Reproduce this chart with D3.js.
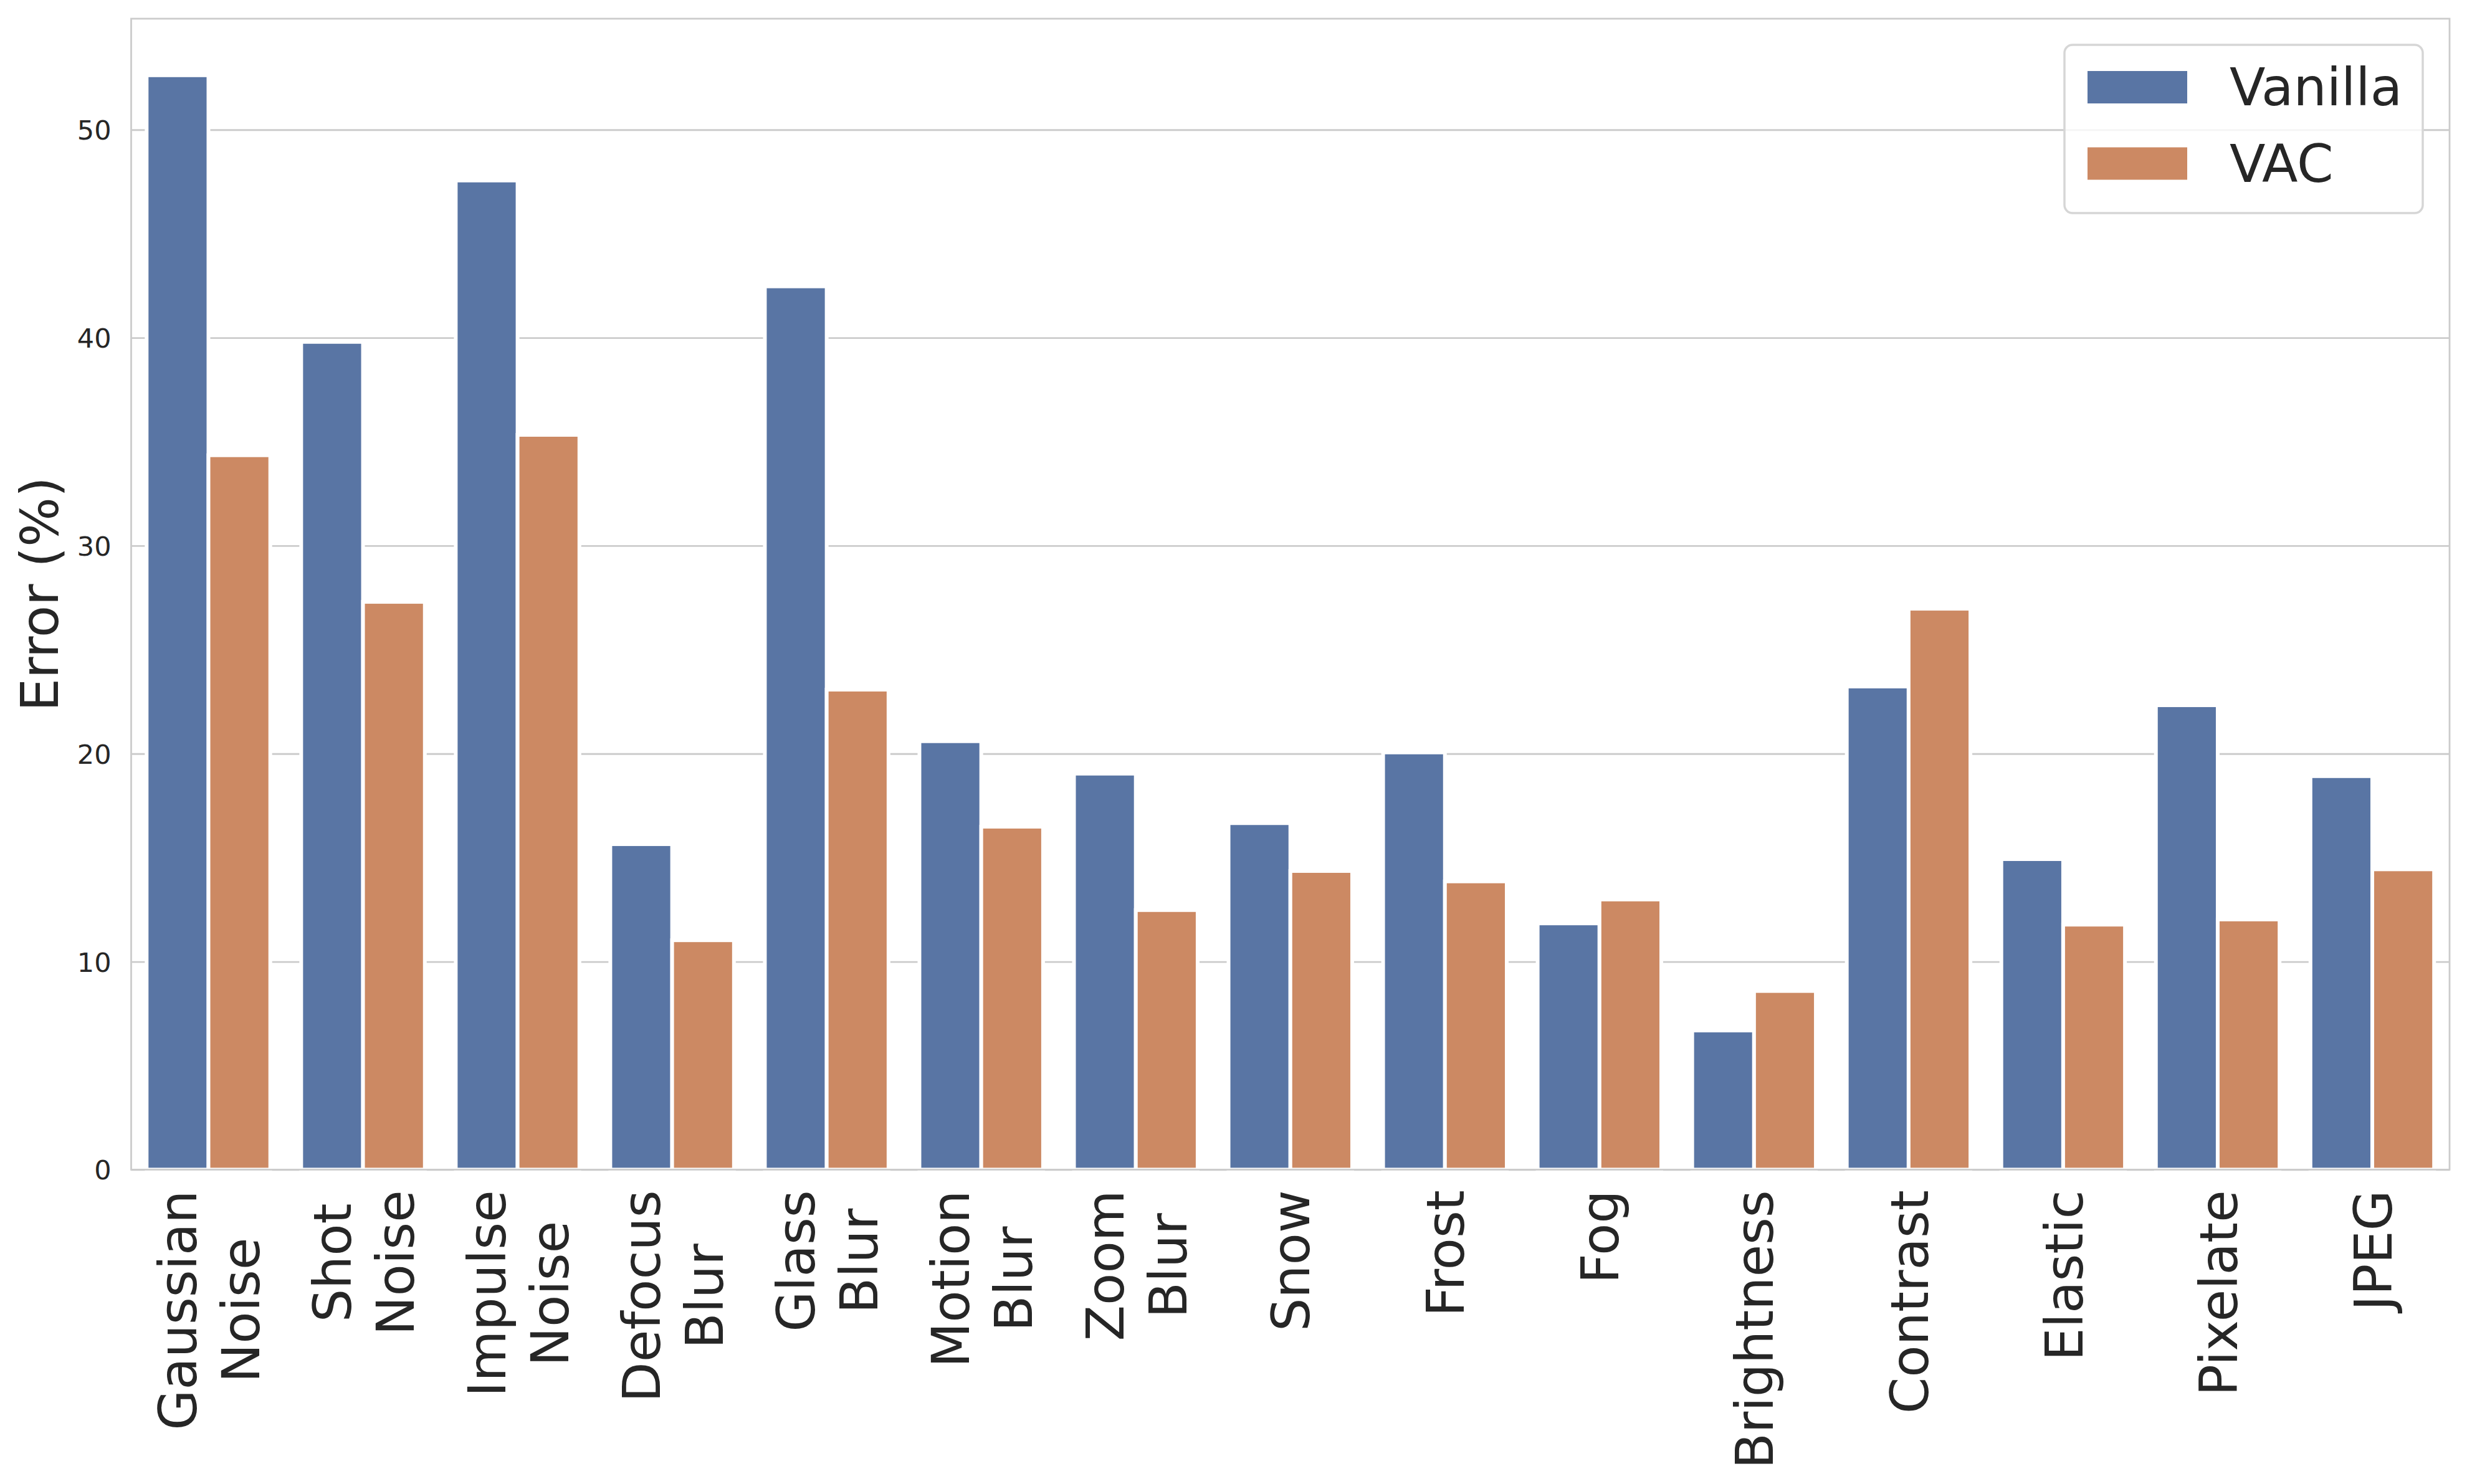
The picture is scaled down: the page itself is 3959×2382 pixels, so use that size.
<!DOCTYPE html>
<html>
<head>
<meta charset="utf-8">
<script src="https://cdn.jsdelivr.net/npm/d3@7"></script>
<style>
  html, body { margin: 0; padding: 0; background: #ffffff; }
  svg { display: block; }
  text { font-family: "DejaVu Sans", sans-serif; fill: #262626; }
</style>
</head>
<body>
<svg id="chart" width="3959" height="2382"></svg>
<script>
// ---- data ----
const categories = ["Gaussian\nNoise", "Shot\nNoise", "Impulse\nNoise", "Defocus\nBlur", "Glass\nBlur",
  "Motion\nBlur", "Zoom\nBlur", "Snow", "Frost", "Fog", "Brightness", "Contrast", "Elastic", "Pixelate", "JPEG"];
const seriesNames = ["Vanilla", "VAC"];
const vanillaValues = [52.62, 39.80, 47.56, 15.65, 42.47, 20.60, 19.04, 16.66, 20.06, 11.84, 6.69, 23.23, 14.93, 22.33, 18.92];
const vacValues = [34.35, 27.30, 35.33, 11.03, 23.08, 16.49, 12.48, 14.36, 13.86, 12.99, 8.59, 26.97, 11.78, 12.03, 14.44];
const yTicks = [0, 10, 20, 30, 40, 50];
const yLabel = "Error (%)";
const seriesColors = ["#5975a4", "#cc8963"];

// ---- layout ----
const W = 3959, H = 2382;
const plotLeft = 210.5, plotRight = 3931, plotTop = 30, plotBottom = 1877.4;
const yMax = 55.34;

const svg = d3.select("#chart");
svg.append("rect").attr("width", W).attr("height", H).attr("fill", "#ffffff");

const x = d3.scaleBand().domain(categories).range([plotLeft, plotRight]).paddingInner(0.2).paddingOuter(0.1);
const xs = d3.scaleBand().domain(seriesNames).range([0, x.bandwidth()]).padding(0);
const y = d3.scaleLinear().domain([0, yMax]).range([plotBottom, plotTop]);

// grid
const grid = svg.append("g").attr("transform", `translate(${plotLeft},0)`)
  .call(d3.axisLeft(y).tickValues(yTicks).tickSize(-(plotRight - plotLeft)).tickFormat(""));
grid.select(".domain").remove();
grid.selectAll("line").attr("stroke", "#cccccc").attr("stroke-width", 2.8);

// bars
const rows = categories.map((c, i) => ({ cat: c, values: [vanillaValues[i], vacValues[i]] }));
const groups = svg.append("g").selectAll("g").data(rows).join("g")
  .attr("transform", d => `translate(${x(d.cat)},0)`);
groups.selectAll("rect").data(d => d.values.map((v, j) => ({ name: seriesNames[j], v, j })))
  .join("rect")
  .attr("x", d => xs(d.name))
  .attr("width", xs.bandwidth())
  .attr("y", d => y(d.v))
  .attr("height", d => y(0) - y(d.v))
  .attr("fill", d => seriesColors[d.j])
  .attr("stroke", "#ffffff")
  .attr("stroke-width", 6);

// spines
svg.append("rect").attr("x", plotLeft).attr("y", plotTop).attr("width", plotRight - plotLeft).attr("height", plotBottom - plotTop)
  .attr("fill", "none").attr("stroke", "#cccccc").attr("stroke-width", 2.8);

// y axis labels
const yAxis = svg.append("g").attr("transform", `translate(${plotLeft},0)`)
  .call(d3.axisLeft(y).tickValues(yTicks).tickSize(0).tickPadding(32).tickFormat(d3.format("d")));
yAxis.select(".domain").remove();
yAxis.selectAll("text").attr("font-size", 43).attr("dy", "0.36em")
  .attr("font-family", "DejaVu Sans").attr("fill", "#262626");

// x axis labels
const xAxis = svg.append("g").attr("transform", `translate(0,${plotBottom})`)
  .call(d3.axisBottom(x).tickSize(0).tickFormat(""));
xAxis.select(".domain").remove();
const fs = 84, lineStep = fs * 1.2, capHalf = 0.729 * fs / 2, labelTop = 33;
xAxis.selectAll(".tick").each(function(d) {
  const g = d3.select(this);
  const lines = d.split("\n");
  let maxW = 0;
  lines.forEach(l => {
    const t = g.append("text").attr("font-size", fs).text(l);
    maxW = Math.max(maxW, t.node().getComputedTextLength());
    t.remove();
  });
  lines.forEach((l, i) => {
    const off = (i - (lines.length - 1) / 2) * lineStep + capHalf;
    g.append("text")
      .attr("font-size", fs)
      .attr("text-anchor", "middle")
      .attr("transform", `translate(${off},${labelTop}) rotate(-90)`)
      .attr("x", -maxW / 2)
      .attr("y", 0)
      .attr("fill", "#262626")
      .text(l);
  });
});

// y axis title
svg.append("text")
  .attr("font-size", fs)
  .attr("text-anchor", "middle")
  .attr("transform", `translate(93,${(plotTop + plotBottom) / 2}) rotate(-90)`)
  .text(yLabel);

// legend
const lg = svg.append("g");
lg.append("rect").attr("x", 3313).attr("y", 72).attr("width", 575).attr("height", 270).attr("rx", 13)
  .attr("fill", "#ffffff").attr("fill-opacity", 0.8).attr("stroke", "#d6d6d6").attr("stroke-width", 3.5);
seriesNames.forEach((n, i) => {
  const yy = 114 + i * 122.5;
  lg.append("rect").attr("x", 3350).attr("y", yy).attr("width", 160).attr("height", 52).attr("fill", seriesColors[i]);
  lg.append("text").attr("x", 3578).attr("y", yy + 55).attr("font-size", fs).text(n);
});
</script>
</body>
</html>
